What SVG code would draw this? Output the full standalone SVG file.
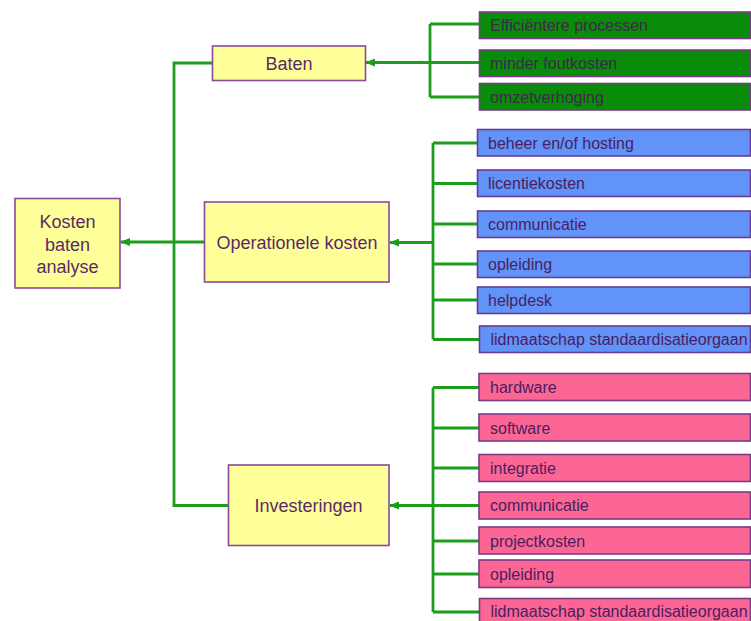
<svg xmlns="http://www.w3.org/2000/svg" width="751" height="621" viewBox="0 0 751 621">
<defs>
<style>
.main{fill:#ffff99;stroke:#8a4a96;stroke-width:1.6}
.g{fill:#098c09;stroke:#7a3a86;stroke-width:1.6}
.b{fill:#6193f8;stroke:#6a3a96;stroke-width:1.6}
.p{fill:#fc6694;stroke:#7a3a86;stroke-width:1.6}
.mt{font-family:"Liberation Sans",Arial,sans-serif;font-size:18px;fill:#5a2a66;text-anchor:middle}
.st{font-family:"Liberation Sans",Arial,sans-serif;font-size:16px;fill:#4a2060}
.gt{font-family:"Liberation Sans",Arial,sans-serif;font-size:16px;fill:#3c2a48}
.c{fill:none;stroke:#1c9e1c;stroke-width:2.8}
</style>
<marker id="ah" markerWidth="10" markerHeight="8" refX="9" refY="4" orient="auto" markerUnits="userSpaceOnUse">
<path d="M0,0 L10,4 L0,8 Z" fill="#1c9e1c"/>
</marker>
</defs>
<rect width="751" height="621" fill="#ffffff"/>
<g id="connectors">
<path class="c" d="M212,63 H174 V505.5 H228"/>
<path class="c" d="M204,242 H121" marker-end="url(#ah)"/>
<path class="c" d="M479,62.5 H366" marker-end="url(#ah)"/>
<path class="c" d="M430,24 V97 M430,24 H479 M430,97 H479"/>
<path class="c" d="M433,242.5 H390" marker-end="url(#ah)"/>
<path class="c" d="M433,143 V339.5 M433,143 H477 M433,183.5 H477 M433,224 H477 M433,264 H477 M433,300 H477 M433,339.5 H479"/>
<path class="c" d="M433,505.5 H390" marker-end="url(#ah)"/>
<path class="c" d="M433,387.5 V612 M433,387.5 H479 M433,428 H479 M433,468 H479 M433,505.5 H479 M433,541 H479 M433,574 H479 M433,612 H479"/>
</g>
<g id="kosten"><rect class="main" x="15" y="198.5" width="105" height="89.5"/>
<text class="mt" x="67.5" y="228">Kosten</text><text class="mt" x="67.5" y="250.5">baten</text><text class="mt" x="67.5" y="272.5">analyse</text></g>
<g id="baten"><rect class="main" x="212.5" y="46" width="153" height="34.5"/><text class="mt" x="289" y="69.5">Baten</text></g>
<g id="operationele"><rect class="main" x="204.5" y="202" width="184.5" height="80"/><text class="mt" x="297" y="248.5">Operationele kosten</text></g>
<g id="investeringen"><rect class="main" x="228.5" y="465" width="160.5" height="80.5"/><text class="mt" x="308.5" y="512">Investeringen</text></g>
<g id="g1"><rect class="g" x="479.5" y="12" width="271" height="26.5"/><text class="gt" x="490" y="31">Efficiëntere processen</text></g>
<g id="g2"><rect class="g" x="479.5" y="50" width="271" height="26.5"/><text class="gt" x="490" y="69">minder foutkosten</text></g>
<g id="g3"><rect class="g" x="479.5" y="83.5" width="271" height="26.5"/><text class="gt" x="490" y="102.5">omzetverhoging</text></g>
<g id="b1"><rect class="b" x="477.5" y="129.5" width="273" height="26.5"/><text class="st" x="488" y="148.5">beheer en/of hosting</text></g>
<g id="b2"><rect class="b" x="477.5" y="170" width="273" height="26.5"/><text class="st" x="488" y="189">licentiekosten</text></g>
<g id="b3"><rect class="b" x="477.5" y="211" width="273" height="26.5"/><text class="st" x="488" y="230">communicatie</text></g>
<g id="b4"><rect class="b" x="477.5" y="251" width="273" height="26.5"/><text class="st" x="488" y="270">opleiding</text></g>
<g id="b5"><rect class="b" x="477.5" y="287" width="273" height="26.5"/><text class="st" x="488" y="306">helpdesk</text></g>
<g id="b6"><rect class="b" x="479.5" y="326" width="271" height="26.5"/><text class="st" x="490.5" y="345">lidmaatschap standaardisatieorgaan</text></g>
<g id="p1"><rect class="p" x="479" y="373.5" width="271.5" height="27"/><text class="st" x="490" y="393">hardware</text></g>
<g id="p2"><rect class="p" x="479" y="414" width="271.5" height="27"/><text class="st" x="490" y="433.5">software</text></g>
<g id="p3"><rect class="p" x="479" y="454.5" width="271.5" height="27"/><text class="st" x="490" y="474">integratie</text></g>
<g id="p4"><rect class="p" x="479" y="492" width="271.5" height="27"/><text class="st" x="490" y="511">communicatie</text></g>
<g id="p5"><rect class="p" x="479" y="527" width="271.5" height="27"/><text class="st" x="490" y="546.5">projectkosten</text></g>
<g id="p6"><rect class="p" x="479" y="560" width="271.5" height="27.5"/><text class="st" x="490" y="579.5">opleiding</text></g>
<g id="p7"><rect class="p" x="479.5" y="598.5" width="271" height="27"/><text class="st" x="490.5" y="617">lidmaatschap standaardisatieorgaan</text></g>
</svg>
